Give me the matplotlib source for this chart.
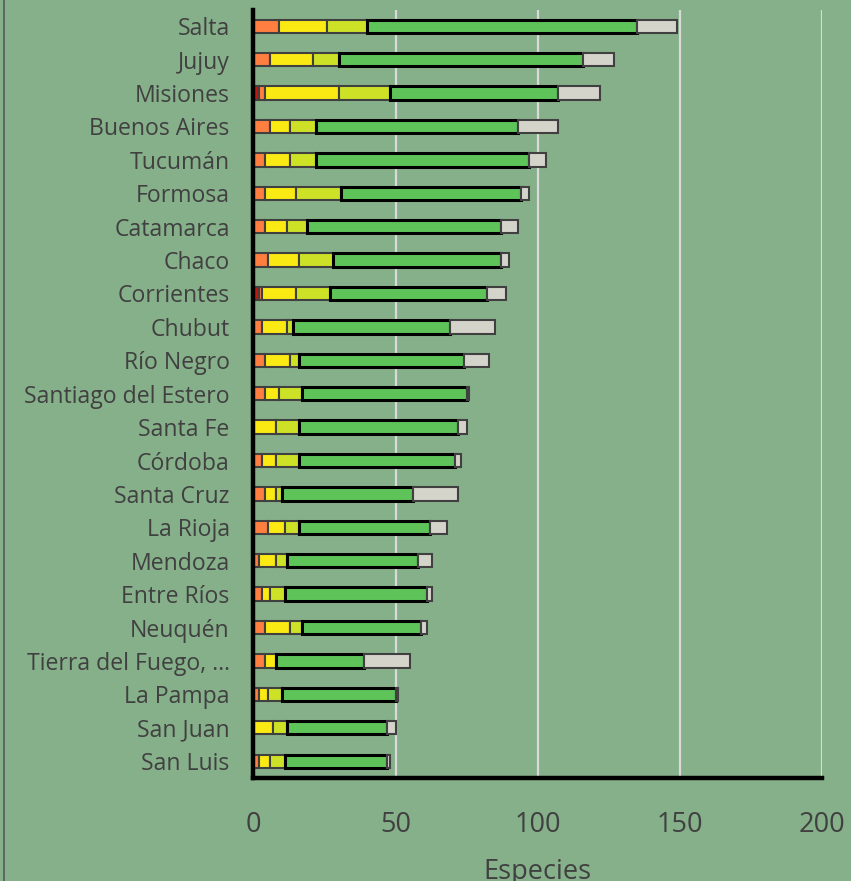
import numpy as np
import matplotlib
matplotlib.use("Agg")
import matplotlib.pyplot as plt
from matplotlib.lines import Line2D

plt.rcParams['font.family'] = ['Open Sans', 'DejaVu Sans']

provinces = ["Salta", "Jujuy", "Misiones", "Buenos Aires", "Tucumán", "Formosa",
             "Catamarca", "Chaco", "Corrientes", "Chubut", "Río Negro",
             "Santiago del Estero", "Santa Fe", "Córdoba", "Santa Cruz", "La Rioja",
             "Mendoza", "Entre Ríos", "Neuquén", "Tierra del Fuego, …", "La Pampa",
             "San Juan", "San Luis"]
cr = [0, 0, 2, 0, 0, 0, 0, 0, 2, 0, 0, 0, 0, 0, 0, 0, 0, 0, 0, 0, 0, 0, 0]
en = [9, 6, 2, 6, 4, 4, 4, 5, 1, 3, 4, 4, 0, 3, 4, 5, 2, 3, 4, 4, 2, 0, 2]
vu = [17, 15, 26, 7, 9, 11, 8, 11, 12, 9, 9, 5, 8, 5, 4, 6, 6, 3, 9, 4, 3, 7, 4]
nt = [14, 9, 18, 9, 9, 16, 7, 12, 12, 2, 3, 8, 8, 8, 2, 5, 4, 5, 4, 0, 5, 5, 5]
lc = [95, 86, 59, 71, 75, 63, 68, 59, 55, 55, 58, 58, 56, 55, 46, 46, 46, 50, 42, 31, 40, 35, 36]
dd = [14, 11, 15, 14, 6, 3, 6, 3, 7, 16, 9, 1, 3, 2, 16, 6, 5, 2, 2, 16, 1, 3, 1]
xticks = [0, 50, 100, 150, 200]

series = [
    (cr, "#c0180c", "#404040", 1.5),
    (en, "#ff7f41", "#404040", 1.5),
    (vu, "#fbe914", "#404040", 1.5),
    (nt, "#cde226", "#404040", 1.5),
    (lc, "#5ec45a", "#000000", 2.2),
    (dd, "#d4d4cb", "#404040", 1.5),
]

bg = "#86b08a"
txt = "#404040"

fig = plt.figure(figsize=(8.51, 8.81), dpi=100, facecolor=bg)
ax = fig.add_axes([0.2977, 0.117, 0.6683, 0.8722])
ax.set_facecolor(bg)

y = np.arange(len(provinces))
left = np.zeros(len(provinces))
for vals, col, ec, lw in series:
    vals = np.array(vals, dtype=float)
    ecs = [ec if v > 0 else "none" for v in vals]
    ax.barh(y, vals, left=left, height=0.4, color=col, edgecolor=ecs,
            linewidth=lw, zorder=3)
    left = left + vals

ax.set_xlim(0, 200)
ax.set_ylim(len(provinces) - 0.5, -0.5)
ax.set_xticks(xticks)
ax.set_yticks(y)
ax.set_yticklabels(provinces)
ax.xaxis.grid(True, color="#d9d9d9", linewidth=1.6, zorder=0)
ax.set_axisbelow(True)

for s in ["top", "right"]:
    ax.spines[s].set_visible(False)
for s in ["left", "bottom"]:
    ax.spines[s].set_color("black")
    ax.spines[s].set_linewidth(3.2)
    ax.spines[s].set_zorder(4)

ax.tick_params(axis="y", length=0, pad=17, labelsize=16.6, labelcolor=txt)
ax.tick_params(axis="x", length=0, pad=23.5, labelsize=19.5, labelcolor=txt)
ax.set_xlabel("Especies", fontsize=19.5, color=txt, labelpad=14)

fig.add_artist(Line2D([0.005, 0.005], [0, 1], transform=fig.transFigure,
                      color="#595959", linewidth=1.2))

fig.savefig("out.png", dpi=100, facecolor=bg)
